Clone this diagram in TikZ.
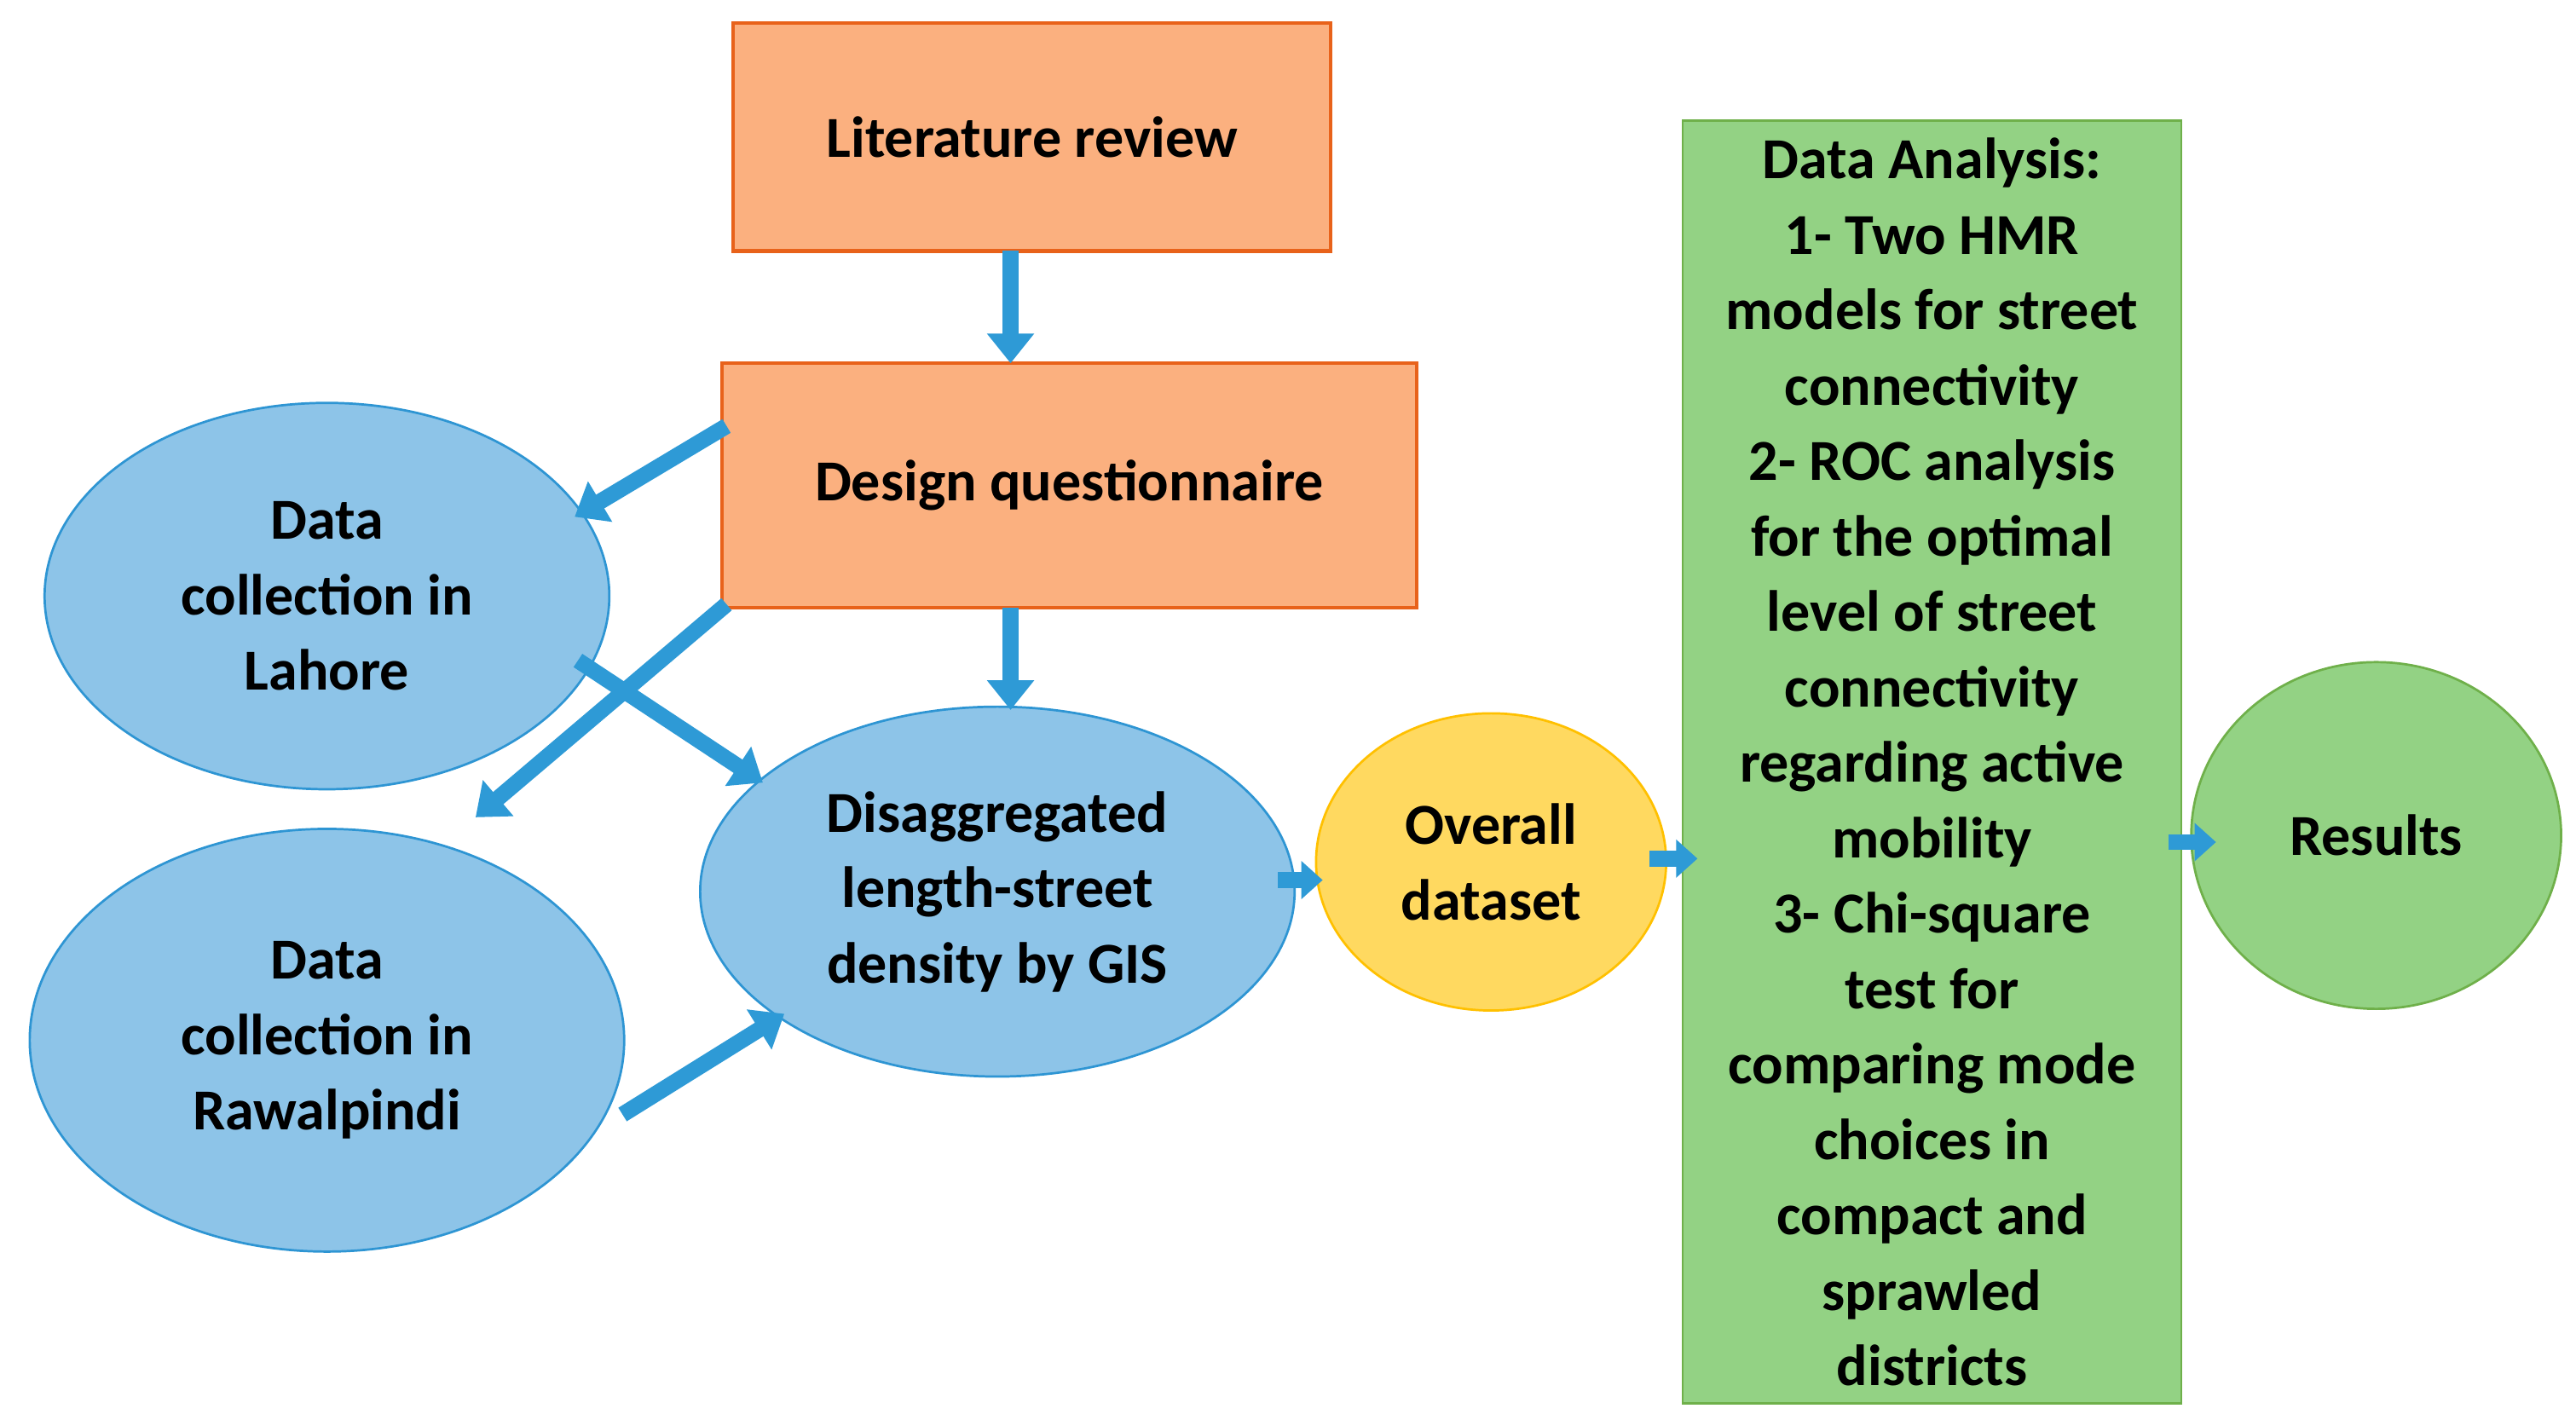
\documentclass[tikz,border=0pt]{standalone}
\usepackage{fontspec}
\setmainfont{Carlito}
\usetikzlibrary{arrows.meta,shapes.geometric}
\definecolor{org}{HTML}{FBB07F}\definecolor{orgb}{HTML}{E8621A}
\definecolor{blu}{HTML}{8DC4E8}\definecolor{blub}{HTML}{2E95D3}
\definecolor{yel}{HTML}{FFD960}\definecolor{yelb}{HTML}{FFC000}
\definecolor{grn}{HTML}{93D284}\definecolor{grnb}{HTML}{6FB04A}
\definecolor{arr}{HTML}{2E9AD6}
\begin{document}
\begin{tikzpicture}[x=0.02cm,y=-0.02cm,
 txt/.style={font=\fontsize{20}{26}\selectfont\bfseries,align=center,text=black},
 box/.style={txt,draw=orgb,fill=org,line width=1.2pt,inner sep=0pt},
 ell/.style={txt,ellipse,draw=blub,fill=blu,line width=0.8pt,inner sep=0pt},
 ba/.style={draw=arr,line width=5.5pt,-{Triangle[width=0.55cm,length=0.36cm]}},
 sa/.style={draw=arr,line width=5.5pt,-{Triangle[width=0.45cm,length=0.26cm]}}]
\useasboundingbox (0,0) rectangle (1560,860);
\node[box,minimum width=362*0.02cm,minimum height=138*0.02cm] (lit) at (625,83) {Literature review};
\node[box,minimum width=421*0.02cm,minimum height=148*0.02cm] (des) at (647.5,294) {Design questionnaire};
\node[ell,minimum width=342*0.02cm,minimum height=234*0.02cm] (lah) at (198,361) {Data\\collection in\\Lahore};
\node[ell,minimum width=360*0.02cm,minimum height=256*0.02cm] (raw) at (198,630) {Data\\collection in\\Rawalpindi};
\node[ell,minimum width=360*0.02cm,minimum height=224*0.02cm] (dis) at (604,540) {Disaggregated\\length-street\\density by GIS};
\node[ell,draw=yelb,fill=yel,minimum width=212*0.02cm,minimum height=180*0.02cm] (ovr) at (903,522) {Overall\\dataset};
\node[txt,draw=grnb,fill=grn,line width=0.8pt,minimum width=302*0.02cm,minimum height=777*0.02cm,inner sep=0pt] (ana) at (1170,461.5) {Data Analysis:\\1- Two HMR\\models for street\\connectivity\\2- ROC analysis\\for the optimal\\level of street\\connectivity\\regarding active\\mobility\\3- Chi-square\\test for\\comparing mode\\choices in\\compact and\\sprawled\\districts};
\node[ell,draw=grnb,fill=grn,minimum width=224*0.02cm,minimum height=210*0.02cm] (res) at (1439,506) {Results};
\coordinate (a1) at (612,152); \coordinate (b1) at (612,220);
\coordinate (a2) at (440,258); \coordinate (b2) at (348,313);
\coordinate (a3) at (440,366); \coordinate (b3) at (288,495);
\coordinate (a4) at (350,400); \coordinate (b4) at (462,474);
\coordinate (a5) at (377,675); \coordinate (b5) at (475,614);
\coordinate (a6) at (612,368); \coordinate (b6) at (612,430);
\coordinate (a7) at (774,533); \coordinate (b7) at (801,533);
\coordinate (a8) at (999,520); \coordinate (b8) at (1028,520);
\coordinate (a9) at (1313,510); \coordinate (b9) at (1342,510);
\draw[ba] (a1)--(b1); \draw[ba] (a2)--(b2); \draw[ba] (a3)--(b3);
\draw[ba] (a4)--(b4); \draw[ba] (a5)--(b5); \draw[ba] (a6)--(b6);
\draw[sa] (a7)--(b7); \draw[sa] (a8)--(b8); \draw[sa] (a9)--(b9);
\end{tikzpicture}
\end{document}
